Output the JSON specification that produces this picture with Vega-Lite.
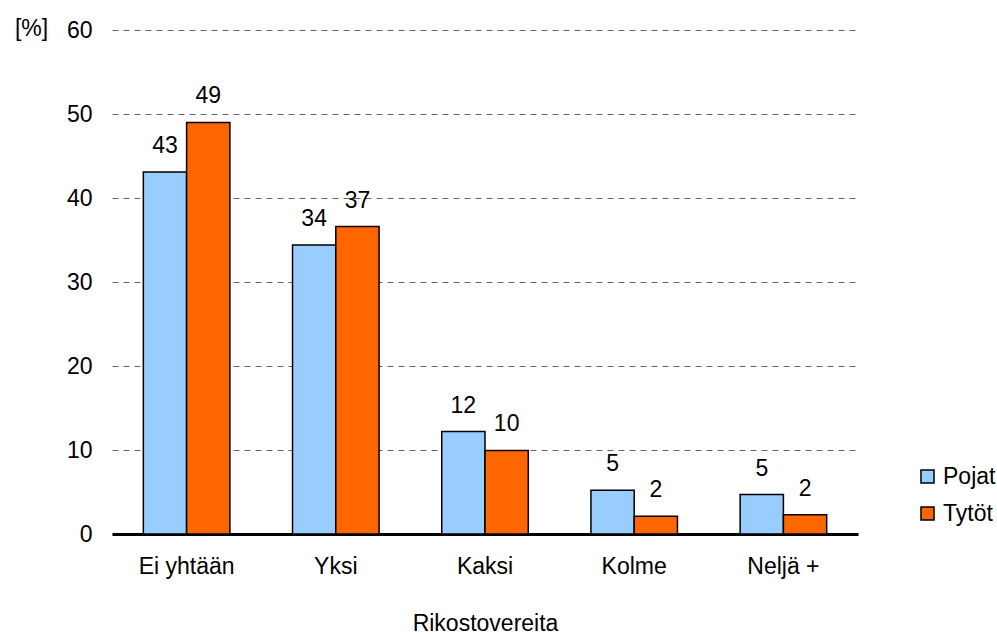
{
  "$schema": "https://vega.github.io/schema/vega-lite/v6.json",
  "autosize": {"type": "none"},
  "width": 746,
  "height": 504,
  "padding": {"left": 112, "top": 30, "right": 139, "bottom": 103},
  "background": "white",
  "config": {
    "font": "Liberation Sans",
    "view": {"stroke": null}
  },
  "data": {
    "values": [
      {"cat": "Ei yhtään", "group": "Pojat", "value": 43.1},
      {"cat": "Ei yhtään", "group": "Tytöt", "value": 49.0},
      {"cat": "Yksi", "group": "Pojat", "value": 34.4},
      {"cat": "Yksi", "group": "Tytöt", "value": 36.6},
      {"cat": "Kaksi", "group": "Pojat", "value": 12.2},
      {"cat": "Kaksi", "group": "Tytöt", "value": 9.95},
      {"cat": "Kolme", "group": "Pojat", "value": 5.2},
      {"cat": "Kolme", "group": "Tytöt", "value": 2.1},
      {"cat": "Neljä +", "group": "Pojat", "value": 4.7},
      {"cat": "Neljä +", "group": "Tytöt", "value": 2.3}
    ]
  },
  "encoding": {
    "x": {
      "field": "cat", "type": "nominal", "sort": null,
      "scale": {"paddingInner": 0.42, "paddingOuter": 0.21},
      "axis": {
        "title": "Rikostovereita", "titleFontSize": 23, "titleFontWeight": "normal", "titleColor": "black",
        "titlePadding": 34,
        "labelAngle": 0, "labelFontSize": 23, "labelColor": "black", "labelPadding": 21,
        "ticks": false, "domainColor": "black", "domainWidth": 3, "grid": false
      }
    },
    "xOffset": {"field": "group", "type": "nominal", "scale": {"paddingInner": 0, "paddingOuter": 0}},
    "y": {
      "field": "value", "type": "quantitative",
      "scale": {"domain": [0, 60]},
      "axis": {
        "values": [0, 10, 20, 30, 40, 50, 60],
        "title": "[%]", "titleAngle": 0, "titleFontSize": 23, "titleFontWeight": "normal", "titleColor": "black",
        "titleX": -81, "titleY": -2, "titleAlign": "center", "titleBaseline": "middle",
        "labelFontSize": 23, "labelColor": "black", "labelPadding": 20,
        "ticks": false, "domain": false,
        "grid": true, "gridColor": "#666666", "gridDash": [6, 5], "gridWidth": 1
      }
    }
  },
  "layer": [
    {
      "mark": {"type": "bar", "stroke": "black", "strokeWidth": 1.5},
      "encoding": {
        "color": {
          "field": "group", "type": "nominal",
          "scale": {"domain": ["Pojat", "Tytöt"], "range": ["#99CCFF", "#FF6600"]},
          "legend": {
            "title": null, "orient": "none", "legendX": 804, "legendY": 435,
            "symbolType": "square", "symbolSize": 170, "symbolStrokeColor": "black", "symbolStrokeWidth": 1.5,
            "labelFontSize": 23, "labelColor": "black", "rowPadding": 13, "labelOffset": 4
          }
        }
      }
    },
    {
      "mark": {"type": "text", "fontSize": 23, "color": "black", "baseline": "alphabetic", "dy": -19},
      "encoding": {
        "text": {"field": "value", "type": "quantitative", "format": ".0f"}
      }
    }
  ]
}
